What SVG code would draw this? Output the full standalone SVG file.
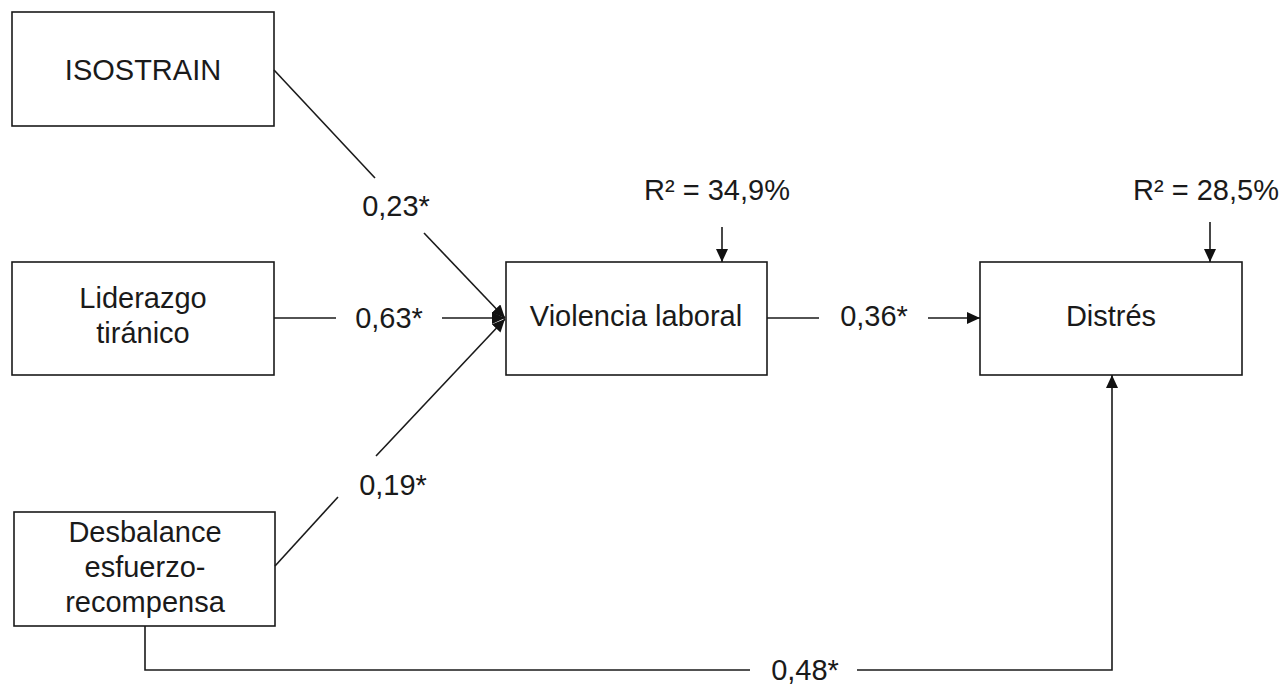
<svg xmlns="http://www.w3.org/2000/svg" width="1286" height="686" viewBox="0 0 1286 686">
<style>
.box{fill:#fff;stroke:#1a1a1a;stroke-width:1.6}
.t{font-family:"Liberation Sans",Arial,sans-serif;font-size:29px;fill:#1a1a1a;text-anchor:middle}
.c{fill:none;stroke:#1a1a1a;stroke-width:1.6}
</style>
<defs>
<marker id="ah" markerUnits="userSpaceOnUse" markerWidth="13" markerHeight="12" refX="13" refY="6" orient="auto">
<path d="M0,0 L13,6 L0,12 z" fill="#111"/>
</marker>
</defs>
<rect width="1286" height="686" fill="#fff"/>
<g id="isostrain">
<rect class="box" x="12" y="12" width="262" height="114"/>
<text class="t" x="143" y="80">ISOSTRAIN</text>
</g>
<g id="liderazgo">
<rect class="box" x="12" y="262" width="262" height="113"/>
<text class="t" x="143" y="308">Liderazgo</text>
<text class="t" x="143" y="343">tiránico</text>
</g>
<g id="desbalance">
<rect class="box" x="14" y="512" width="261" height="114"/>
<text class="t" x="145" y="542">Desbalance</text>
<text class="t" x="145" y="577">esfuerzo-</text>
<text class="t" x="145" y="612">recompensa</text>
</g>
<g id="violencia">
<rect class="box" x="506" y="262" width="261" height="113"/>
<text class="t" x="636" y="326">Violencia laboral</text>
</g>
<g id="distres">
<rect class="box" x="980" y="262" width="262" height="113"/>
<text class="t" x="1111" y="326">Distrés</text>
</g>
<g id="r2-violencia">
<text class="t" x="717" y="200">R² = 34,9%</text>
</g>
<g id="r2-distres">
<text class="t" x="1206" y="200">R² = 28,5%</text>
</g>
<g id="connectors">
<line class="c" x1="274" y1="70" x2="375" y2="178"/>
<line class="c" x1="424" y1="233" x2="505" y2="318" marker-end="url(#ah)"/>
<text class="t" x="396" y="216">0,23*</text>
<line class="c" x1="274" y1="318" x2="336" y2="318"/>
<line class="c" x1="442" y1="318" x2="505" y2="318" marker-end="url(#ah)"/>
<text class="t" x="389" y="328">0,63*</text>
<line class="c" x1="275" y1="566" x2="338" y2="497"/>
<line class="c" x1="376" y1="456" x2="505" y2="319" marker-end="url(#ah)"/>
<text class="t" x="393" y="495">0,19*</text>
<line class="c" x1="767" y1="318" x2="819" y2="318"/>
<line class="c" x1="928" y1="318" x2="980" y2="318" marker-end="url(#ah)"/>
<text class="t" x="874" y="326">0,36*</text>
<polyline class="c" points="145,626 145,670 750,670"/>
<polyline class="c" points="857,670 1112,670 1112,375" marker-end="url(#ah)"/>
<text class="t" x="805" y="680">0,48*</text>
<line class="c" x1="722" y1="227" x2="722" y2="262" marker-end="url(#ah)"/>
<line class="c" x1="1210" y1="222" x2="1210" y2="262" marker-end="url(#ah)"/>
</g>
</svg>
